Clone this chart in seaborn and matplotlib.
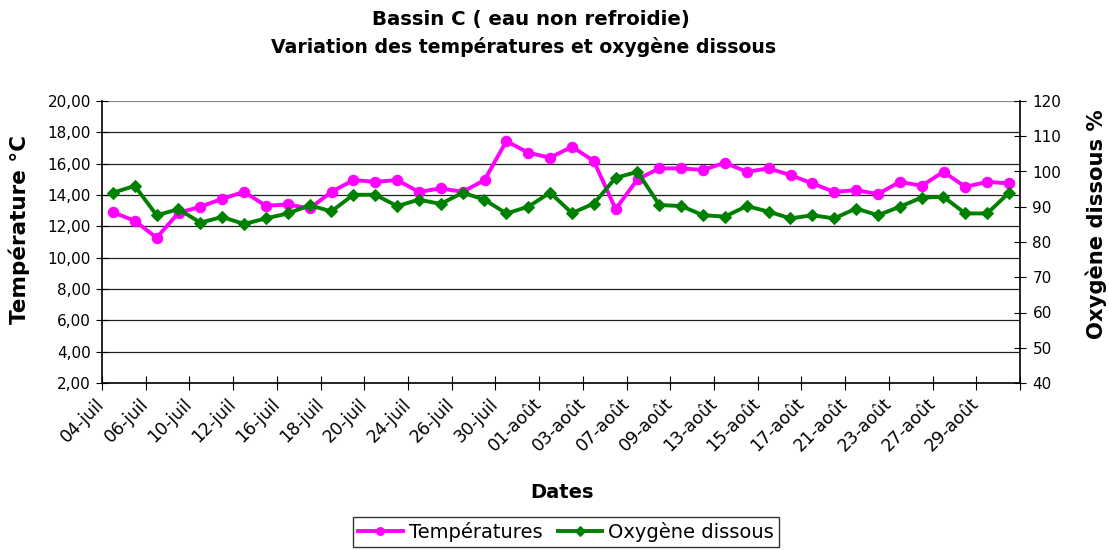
import numpy as np
import pandas as pd
import seaborn as sns
import matplotlib.pyplot as plt
import matplotlib.transforms as mtransforms
from matplotlib.ticker import FuncFormatter

# ============================
# Données
# ============================
dates = ["04-juil", "06-juil", "10-juil", "12-juil", "16-juil", "18-juil",
         "20-juil", "24-juil", "26-juil", "30-juil", "01-août", "03-août",
         "07-août", "09-août", "13-août", "15-août", "17-août", "21-août",
         "23-août", "27-août", "29-août"]

temperatures = [12.90, 12.35, 11.27, 12.86, 13.25, 13.76, 14.20, 13.31, 13.40, 13.14,
                14.20, 14.95, 14.84, 14.95, 14.20, 14.42, 14.20, 14.95, 17.44, 16.70,
                16.38, 17.08, 16.17, 13.10, 15.00, 15.70, 15.70, 15.60, 16.06, 15.48,
                15.70, 15.27, 14.74, 14.20, 14.31, 14.06, 14.84, 14.59, 15.48, 14.52,
                14.84, 14.74]

oxygene = [94.0, 95.9, 87.6, 89.3, 85.5, 87.1, 85.1, 86.7, 88.1, 90.4,
           88.7, 93.4, 93.4, 90.2, 92.0, 90.8, 94.0, 92.0, 88.1, 90.0,
           94.0, 88.2, 90.9, 98.2, 99.9, 90.5, 90.2, 87.6, 87.2, 90.2,
           88.6, 86.7, 87.6, 86.7, 89.5, 87.6, 90.0, 92.6, 92.8, 88.1,
           88.1, 94.0]

df = pd.DataFrame({"mesure": np.arange(len(temperatures)),
                   "Températures": temperatures,
                   "Oxygène dissous": oxygene})

ROSE = "#FF00FF"
VERT = "#008000"

# ============================
# Figure
# ============================
W, H = 1109, 550
fig = plt.figure(figsize=(W / 100, H / 100), dpi=100)
ax = fig.add_axes([102 / W, 1 - 383 / H, (1020 - 102) / W, (383 - 101) / H])
ax2 = ax.twinx()

sns.lineplot(data=df, x="mesure", y="Températures", ax=ax, color=ROSE,
             marker="o", markersize=7.5, markeredgecolor=ROSE, linewidth=2.8,
             label="Températures", legend=False)
sns.lineplot(data=df, x="mesure", y="Oxygène dissous", ax=ax2, color=VERT,
             marker="D", markersize=6.5, markeredgecolor=VERT, linewidth=2.8,
             label="Oxygène dissous", legend=False)

# axes
ax.set_ylim(2, 20)
ax.set_yticks(np.arange(2, 21, 2))
ax.yaxis.set_major_formatter(FuncFormatter(lambda v, p: f"{v:.2f}".replace(".", ",")))
ax2.set_ylim(40, 120)
ax2.set_yticks(np.arange(40, 121, 10))

n = len(temperatures)
ax.set_xlim(-0.5, n - 0.5)
pos = np.arange(-0.5, n, 2)
ax.set_xticks(pos)
ax.set_xticklabels(dates + [""] * (len(pos) - len(dates)), rotation=45,
                   ha="right", va="center", rotation_mode="anchor", fontsize=12.5)
decalage = mtransforms.ScaledTranslation(-7 / 100, -2 / 100, fig.dpi_scale_trans)
for t in ax.get_xticklabels():
    t.set_transform(t.get_transform() + decalage)
ax.set_xlabel("")
ax.set_ylabel("")
ax2.set_ylabel("")

ax.grid(axis="y", color="#222222", linewidth=0.9)
ax.set_axisbelow(True)
for a in (ax, ax2):
    a.spines["top"].set_visible(False)
    for s in ("left", "right", "bottom"):
        a.spines[s].set_color("black")
        a.spines[s].set_linewidth(1.2)
ax.spines["right"].set_visible(False)
ax2.spines["left"].set_visible(False)
ax2.spines["bottom"].set_visible(False)
ax.get_ygridlines()[-1].set_color("#888888")

ax.tick_params(axis="y", direction="inout", length=8, labelsize=11, pad=4)
ax.tick_params(axis="x", direction="inout", length=10, pad=8)
ax2.tick_params(axis="y", direction="inout", length=8, labelsize=11, pad=5)

# textes
fig.text(531 / W, 1 - 20 / H, "Bassin C ( eau non refroidie)", ha="center",
         va="center", fontsize=14.2, fontweight="bold")
fig.text(524 / W, 1 - 47 / H, "Variation des températures et oxygène dissous",
         ha="center", va="center", fontsize=13.6, fontweight="bold")
fig.text(19 / W, 1 - 230 / H, "Température °C", rotation=90, ha="center",
         va="center", fontsize=15.5, fontweight="bold")
fig.text(1096 / W, 1 - 224 / H, "Oxygène dissous %", rotation=90, ha="center",
         va="center", fontsize=15.2, fontweight="bold")
fig.text(562 / W, 1 - 493 / H, "Dates", ha="center", va="center",
         fontsize=14, fontweight="bold")

h1, l1 = ax.get_legend_handles_labels()
h2, l2 = ax2.get_legend_handles_labels()
leg = fig.legend(h1 + h2, l1 + l2, loc="center", ncol=2,
                 bbox_to_anchor=(566 / W, 1 - 532 / H), fontsize=14,
                 frameon=True, fancybox=False, edgecolor="black",
                 handlelength=2.3, handletextpad=0.3, columnspacing=0.8,
                 borderpad=0.25, numpoints=1, markerscale=0.75)
leg.get_frame().set_linewidth(1.0)

fig.savefig("out.png", dpi=100)
plt.close(fig)
